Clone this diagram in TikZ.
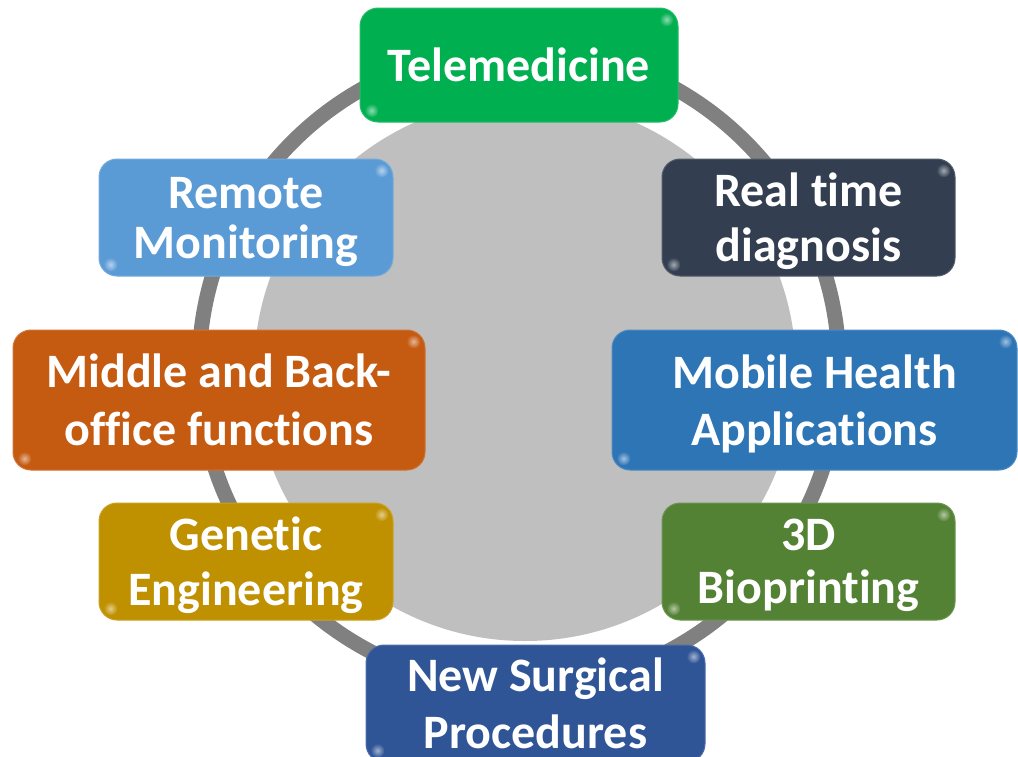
\documentclass[tikz,border=0pt]{standalone}
\usepackage{fontspec}
\setmainfont{Carlito}[Ligatures=NoCommon]
\definecolor{cGreen}{HTML}{00B050}
\definecolor{cRemote}{HTML}{5B9BD5}
\definecolor{cReal}{HTML}{333F50}
\definecolor{cOrange}{HTML}{C55A11}
\definecolor{cMobile}{HTML}{2E75B6}
\definecolor{cGenetic}{HTML}{BF9000}
\definecolor{cBio}{HTML}{548235}
\definecolor{cSurg}{HTML}{2F5597}
\definecolor{cRing}{HTML}{808080}
\definecolor{cDisk}{HTML}{BFBFBF}
\tikzset{
  card/.style={rectangle, rounded corners=18pt, fill=#1, draw=#1!85!white, line width=1pt,
    text=white, font=\bfseries\fontsize{48}{56}\selectfont, align=center, inner sep=0pt,
    text depth=0pt},
  lines/.style={font=\bfseries\fontsize{48}{#1}\selectfont},
  ring/.style={draw=cRing, line width=15pt},
  disk/.style={fill=cDisk},
}
\begin{document}
\begin{tikzpicture}[x=1pt,y=-1pt]
\clip (0,0) rectangle (1018,756);
\fill[white] (0,0) rectangle (1018,756);
\draw[ring] (519,368) circle (320pt);
\fill[disk] (525,370) circle (271pt);
\node[card=cGreen, minimum width=318pt, minimum height=114pt] (tele) at (519,65) {Telemedicine};
\node[card=cRemote, lines=50, minimum width=294pt, minimum height=117pt] (remote) at (246,217.5) {Remote\\Monitoring};
\node[card=cReal, lines=55, minimum width=293pt, minimum height=117pt] (real) at (808.5,217.5) {Real time\\diagnosis};
\node[card=cOrange, lines=58, minimum width=412pt, minimum height=140pt] (middle) at (219,400) {Middle and Back-\\office functions};
\node[card=cMobile, lines=57, minimum width=405pt, minimum height=140pt] (mobile) at (814.5,400) {Mobile Health\\Applications};
\node[card=cGenetic, lines=55, minimum width=294pt, minimum height=117pt] (genetic) at (246,561.5) {Genetic\\Engineering};
\node[card=cBio, lines=53, minimum width=293pt, minimum height=117pt] (bio) at (808.5,561.5) {3D\\Bioprinting};
\node[card=cSurg, lines=57, minimum width=339pt, minimum height=117pt] (surg) at (535.5,703.5) {New Surgical\\Procedures};
\foreach \n/\c in {tele/cGreen, remote/cRemote, real/cReal, middle/cOrange, mobile/cMobile, genetic/cGenetic, bio/cBio, surg/cSurg}{
  \shade[inner color=\c!45!white, outer color=\c] ([shift={(-12,12)}]\n.north east) circle (7pt);
  \shade[inner color=\c!45!white, outer color=\c] ([shift={(12,-12)}]\n.south west) circle (7pt);
}
\end{tikzpicture}
\end{document}
